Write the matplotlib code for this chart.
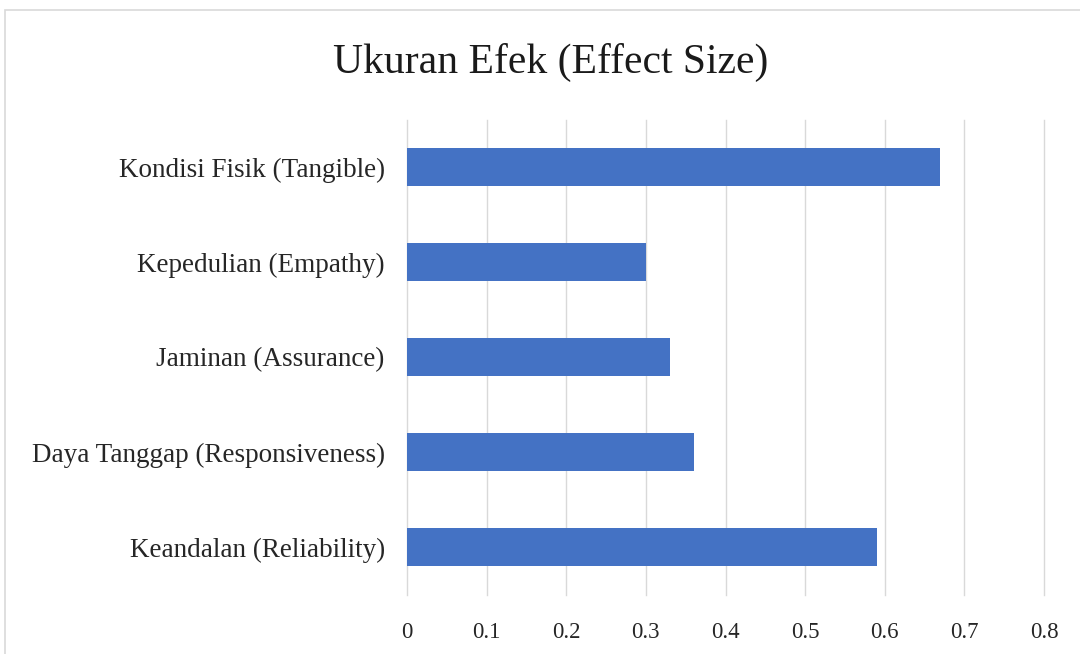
import matplotlib
matplotlib.use("Agg")
import matplotlib.pyplot as plt
from matplotlib.patches import Rectangle

categories = [
    "Keandalan (Reliability)",
    "Daya Tanggap (Responsiveness)",
    "Jaminan (Assurance)",
    "Kepedulian (Empathy)",
    "Kondisi Fisik (Tangible)",
]
values = [0.59, 0.36, 0.33, 0.30, 0.67]
xticks = [0, 0.1, 0.2, 0.3, 0.4, 0.5, 0.6, 0.7, 0.8]
xticklabels = ["0", "0.1", "0.2", "0.3", "0.4", "0.5", "0.6", "0.7", "0.8"]
title = "Ukuran Efek (Effect Size)"

plt.rcParams['font.family'] = ['Liberation Serif', 'DejaVu Serif']

fig = plt.figure(figsize=(10.8, 6.54), dpi=100)
fig.patch.set_facecolor("white")

# outer chart border (cropped at right and bottom)
fig.add_artist(Rectangle((5 / 1080, -0.1), 1.2, (654 - 10) / 654 + 0.1,
                         transform=fig.transFigure, fill=False,
                         edgecolor="#d9d9d9", linewidth=1.2))

ax = fig.add_axes([407 / 1080, (654 - 594.5) / 654, (1044 - 407) / 1080, (594.5 - 119.5) / 654])
ypos = list(range(len(categories)))
ax.barh(ypos, values, height=0.4, color="#4472C4", zorder=3)
ax.set_xlim(0, 0.8)
ax.set_ylim(-0.5, len(categories) - 0.5)
ax.set_xticks(xticks)
ax.set_xticklabels(xticklabels)
ax.set_yticks(ypos)
ax.set_yticklabels(categories)
ax.tick_params(axis="x", length=0, labelsize=16.5, colors="#262626", pad=20)
ax.tick_params(axis="y", length=0, labelsize=19.5, colors="#262626", pad=16)
ax.grid(axis="x", color="#d9d9d9", linewidth=1, zorder=0)
for gl in ax.get_xgridlines():
    gl.set_clip_on(False)
for s in ax.spines.values():
    s.set_visible(False)

fig.text(551 / 1080, (654 - 62) / 654, title, ha="center", va="center",
         fontsize=30, color="#1a1a1a")

fig.savefig("out.png", dpi=100, facecolor="white")
